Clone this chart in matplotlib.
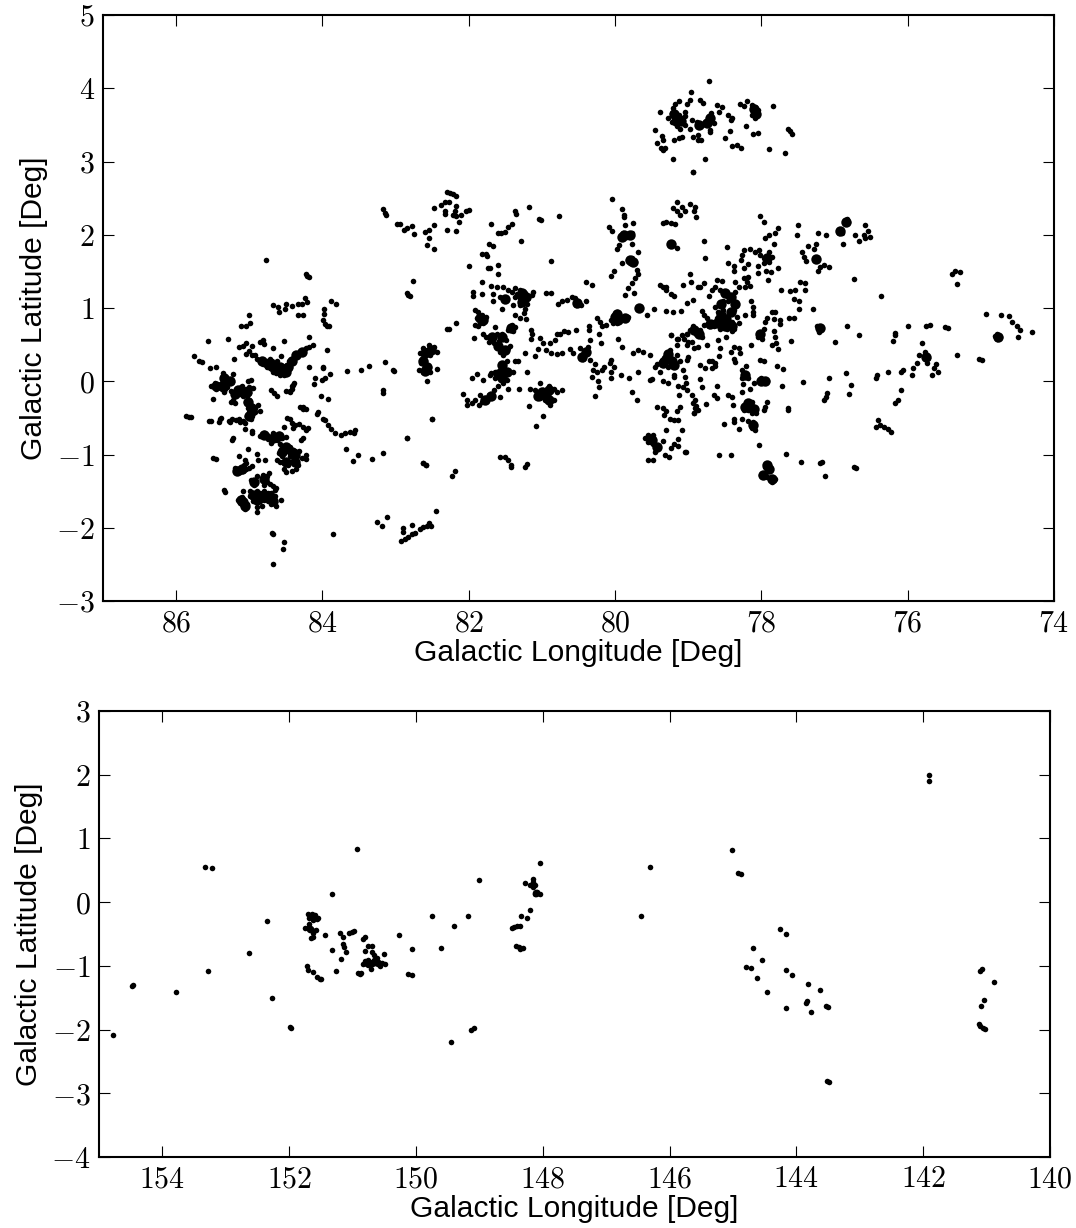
import matplotlib
matplotlib.use('Agg')
import matplotlib.pyplot as plt

plt.rcParams['mathtext.fontset'] = 'cm'
plt.rcParams['font.family'] = ['Liberation Sans', 'DejaVu Sans']

# Source positions as (longitude, latitude) in degrees
top_far_west = [(84.77,1.655),(84.21,1.44),(84.23,1.46),(84.19,1.43),(84.67,1.04),(84.61,1.01),(84.60,.95),(84.51,.98),(84.50,1.05),
    (84.42,1.03),(84.34,1.05),(84.28,1.05),(84.24,1.13),(84.21,1.08),(84.33,.91),(84.27,.91),(83.98,.98),(83.98,.92),(83.99,.84),
    (83.94,.76),(83.97,.78),(83.91,.75),(83.88,1.10),(83.82,1.06),(85.01,.90),(84.99,.80),(85.12,.75),(85.05,.75),(85.56,.545),
    (85.29,.58),(85.76,.345),(85.69,.27),(85.65,.26),(85.21,.31),(85.54,.18),(85.45,.20),(85.14,.47),(85.08,.48),(85.04,.52),
    (84.97,.48),(84.86,.53),(84.81,.565),(84.80,.51),(84.68,.46),(84.52,.55),(84.19,.60)]
top_band = [(85.04,.37),(84.97,.36),(84.90,.31),(84.85,.27),(84.81,.24),(84.76,.20),(84.72,.18),(84.67,.13),(84.63,.11),(84.58,.09),
    (84.53,.09),(84.49,.13),(84.44,.20),(84.40,.27),(84.35,.36),(84.28,.40),(84.22,.45),(84.13,.50),(84.72,.31),(84.67,.245),
    (84.63,.20),(84.58,.20),(84.53,.20),(84.49,.22),(84.42,.31),(84.58,.15),(84.65,.16),(84.51,.15),(84.76,.27),(84.69,.27),
    (84.62,.27),(84.46,.27),(84.38,.33),(84.32,.37),(84.25,.43),(84.18,.47),(84.92,.36),(85.0,.41),(84.56,.35),(84.72,.24)]
top_west_a = [(85.52,-.06),(85.47,-.03),(85.43,-.07),(85.38,-.03),(85.45,-.11),(85.38,-.11),(85.35,-.15),(85.36,.11),(85.36,.07),
    (85.28,.02),(85.24,-.01),(85.22,.10),(85.30,-.08),(85.25,-.13),(85.2,-.16),(85.15,-.16),(85.1,-.13),(85.05,-.1),(85.0,-.08),
    (84.95,-.09),(85.02,.0),(84.98,.02),(85.12,-.08),(85.08,-.2),(85.03,-.2),(85.0,-.16),(85.05,-.28),(85.0,-.25),(84.98,-.32),
    (85.02,-.36),(84.95,-.34),(84.88,-.33),(84.92,-.36),(85.0,-.42),(84.96,-.47),(85.03,-.47),(84.98,-.52),(84.92,-.42),(84.85,-.41),
    (85.25,-.28),(85.2,-.3),(85.22,-.25),(85.5,-.24),(85.86,-.48),(85.83,-.49),(85.8,-.49),(85.55,-.54),(85.52,-.54),(85.4,-.52),
    (85.39,-.5),(85.41,-.55),(85.28,-.54),(85.27,-.56),(85.23,-.52),(85.18,-.53),(85.14,-.52),(85.13,-.55),(85.08,-.54),(85.06,-.57),
    (85.06,-.656),(84.96,-.68),(84.96,-.71),(85.22,-.77),(85.24,-.80),(85.33,-.11),(85.17,-.11),(85.1,-.06)]
top_west_b = [(84.85,-.75),(84.8,-.71),(84.76,-.74),(84.74,-.79),(84.71,-.84),(84.68,-.7),(84.65,-.74),(84.62,-.8),(84.6,-.72),(84.55,-.78),
    (84.5,-.76),(84.58,-.86),(84.57,-.92),(84.53,-.95),(84.6,-.98),(84.48,-.88),(84.48,-.95),(84.44,-.9),(84.42,-.97),(84.38,-.95),
    (84.35,-.98),(84.32,-.95),(84.4,-1.03),(84.37,-1.07),(84.45,-1.02),(84.28,-1.05),(84.22,-1.0),(84.22,-1.06),(84.55,-1.02),
    (84.62,-1.08),(84.58,-1.1),(84.52,-1.12),(84.47,-1.15),(84.53,-1.2),(84.5,-1.24),(84.42,-1.22),(84.33,-1.15),(84.36,-1.2),
    (84.3,-.8),(84.27,-.78),(84.23,-.67),(84.2,-.64),(84.26,-.62),(84.32,-.59),(84.37,-.6),(84.4,-.64),(84.42,-.57),(84.45,-.52),
    (84.48,-.5),(84.52,-.63),(84.71,-.12),(84.66,-.16),(84.62,-.2),(84.5,-.13),(84.45,-.13),(84.41,-.06),(84.39,-.03),(84.27,-.35),
    (84.22,-.38),(84.31,-.345),(84.26,-.38),(85.14,-1.02),(85.02,-.93),(84.90,-.99),(85.06,-1.07),(84.88,-1.07),(84.79,-1.07),
    (85.2,-1.19),(85.17,-1.2),(85.13,-1.24),(85.09,-1.22),(85.05,-1.2),(85.0,-1.18),(85.07,-1.15),(85.04,-1.12),(84.96,-1.16),
    (85.49,-1.05),(85.46,-1.06),(85.35,-1.48),(85.33,-1.51),(84.95,-1.36),(84.9,-1.3),(84.93,-1.42),(84.98,-1.35),(84.81,-1.28),
    (84.76,-1.3),(84.8,-1.35),(84.76,-1.38),(84.72,-1.4),(84.68,-1.43),(84.8,-1.42),(84.73,-1.25),(84.63,-1.46),(84.65,-1.49)]
top_west_c = [(85.15,-1.62),(85.1,-1.58),(85.08,-1.5),(85.13,-1.66),(85.08,-1.68),(85.06,-1.74),(85.03,-1.68),(85.08,-1.62),
    (84.99,-1.5),(84.95,-1.52),(84.9,-1.5),(84.85,-1.52),(84.8,-1.5),(84.75,-1.52),(84.7,-1.52),(84.99,-1.57),(84.95,-1.58),
    (84.9,-1.56),(84.85,-1.58),(84.8,-1.56),(84.75,-1.58),(84.7,-1.57),(84.65,-1.56),(84.95,-1.63),(84.9,-1.62),(84.85,-1.63),
    (84.8,-1.62),(84.75,-1.63),(84.68,-1.62),(84.9,-1.72),(84.82,-1.7),(84.7,-1.67),(84.65,-1.65),(84.64,-1.7),(84.56,-1.62),
    (84.9,-1.78),(84.69,-2.07),(84.67,-2.08),(84.53,-2.2),(84.54,-2.29),(84.68,-2.5),(83.86,-2.08),(84.18,.2),(83.99,.2),(83.99,.18),
    (84.10,.05),(84.11,-.04),(84.0,.02),(83.97,.04),(83.9,.1),(83.94,.42),(84.02,-.2),(83.92,-.24),(84.40,-.05),(84.42,-.1),(84.44,-.15),
    (84.06,-.42),(84.08,-.45),(83.99,-.52),(83.96,-.53),(83.93,-.6),(83.89,-.65),(83.83,-.7),(83.75,-.74),(83.69,-.71),(83.62,-.69),
    (83.57,-.71),(83.55,-.66),(83.66,.14),(83.47,.15),(83.36,.21),(83.15,.26),(83.04,.16),(83.02,.14),(83.17,-.12),(83.17,-.16),
    (83.68,-.92),(83.52,-1.0),(83.58,-1.09),(83.32,-1.06),(83.17,-.98),(82.84,-.77),(82.62,-1.12),(82.59,-1.14),(82.5,-.51),
    (83.17,2.35),(83.15,2.3),(83.13,2.27),(82.98,2.15)]
top_g = [(82.55,.49),(82.62,.45),(82.48,.47),(82.44,.40),(82.67,.38),(82.64,.31),(82.53,.36),(82.6,.27),(82.55,.2),(82.68,.15),(82.62,.13),
    (82.53,.13),(82.44,.17),(82.57,-.0),(82.6,.42),(82.55,.44),(82.62,.37),(82.59,.22),(82.65,.25),(83.25,-1.92),(83.19,-1.97),(83.12,-1.86),
    (82.9,-2.01),(82.9,-2.06),(82.77,-1.96),(82.92,-2.18),(82.87,-2.16),(82.83,-2.12),(82.78,-2.09),(82.73,-2.07),(82.67,-2.02),(82.62,-1.99),
    (82.57,-1.98),(82.55,-1.93),(82.52,-1.97),(82.45,-1.77)]
top_centre_a = [(82.94,2.14),(82.89,2.06),(82.84,2.09),(82.78,2.12),(82.75,2.015),(82.6,2.04),(82.54,2.07),(82.48,2.13),(82.55,1.96),(82.57,1.86),
    (82.48,1.81),(82.48,2.37),(82.38,2.41),(82.32,2.45),(82.27,2.45),(82.3,2.59),(82.26,2.57),(82.21,2.56),(82.17,2.53),(82.32,2.29),(82.32,2.33),
    (82.17,2.39),(82.19,2.32),(82.21,2.27),(82.17,2.25),(82.1,2.27),(82.04,2.32),(82.0,2.34),(82.13,2.18),(82.3,2.06),(82.18,2.05),(81.7,2.14),
    (81.6,2.03),(81.56,2.03),(81.5,2.04),(81.46,2.11),(81.41,2.14),(81.37,2.32),(81.36,2.28),(81.17,2.38),(81.04,2.22),(81.01,2.2),(80.77,2.26),
    (81.29,1.92),(81.73,1.88),(81.67,1.84),(81.82,1.74),(81.76,1.74),(81.75,1.71),(82.0,1.57),(81.74,1.54),(81.71,1.54),(81.6,1.59),(81.6,1.46),
    (80.87,1.64),(82.76,1.37),(82.83,1.18),(82.85,1.21),(82.81,1.17)]
top_centre_b = [(81.82,1.36),(81.7,1.3),(81.62,1.28),(81.53,1.28),(81.46,1.25),(81.37,1.27),(81.3,1.24),(81.23,1.2),(81.19,1.13),(81.21,1.06),(81.23,.99),
    (81.25,.93),(81.22,.85),(81.3,1.04),(81.39,1.04),(81.41,1.22),(81.37,1.15),(81.34,1.19),(81.12,1.22),(81.13,1.18),(81.53,1.13),(81.57,1.15),
    (81.49,1.11),(81.55,.98),(81.67,1.19),(81.67,1.1),(81.82,1.19),(81.94,1.22),(81.94,1.17),(81.37,.9),(81.3,.86),(81.3,1.14),(81.25,1.1),(81.27,1.2),
    (80.94,1.21),(80.87,1.2),(80.78,1.06),(80.73,1.09),(80.66,1.11),(80.59,1.15),(80.55,1.13),(80.5,1.09),(80.53,1.04),(80.46,1.04),(80.4,1.1),
    (80.4,1.35),(80.32,1.32),(81.87,.95),(81.91,.97),(81.82,.9),(81.76,.88),(81.89,.86),(81.82,.84),(81.91,.77),(81.87,.75),(81.8,.79),(81.85,.8),
    (81.93,.59),(82.3,.72),(82.27,.72),(82.18,.79),(81.8,.65),(81.76,.61),(81.73,.54),(81.66,.52),(81.62,.47),(81.57,.4),(81.53,.36),(81.55,.65),
    (81.49,.56),(81.44,.48),(81.47,.45),(81.64,.74),(81.62,.65),(81.68,.62),(81.58,.55),(81.46,.7),(81.41,.77),(81.37,.74),(81.39,.68),(81.15,.7),
    (81.14,.65),(81.15,.57),(81.23,.39),(81.09,.35),(81.05,.44),(81.03,.59),(80.98,.52),(80.94,.43),(80.87,.38),(80.89,.52),(80.82,.56),(80.8,.65),
    (80.75,.65),(80.7,.69),(80.64,.67),(80.53,.7),(80.36,.75),(80.36,.7),(80.22,.65),(80.19,.52),(80.25,.86),(80.21,.81),(80.18,.75),(80.12,.77)]
top_centre_c = [(79.98,.95),(80.0,.88),(80.05,.84),(79.96,.84),(79.93,.88),(79.98,.79),(80.03,.79),(79.82,.88),(79.85,.86),(79.66,1.02),(79.68,.98),
    (79.57,.91),(79.47,.98),(79.3,.96),(79.21,.94),(79.1,.96),(79.02,1.07),(78.93,1.11),(81.48,.27),(81.53,.2),(81.57,.15),(81.64,.13),(81.69,.11),
    (81.71,.09),(81.64,.04),(81.57,.06),(81.5,.09),(81.48,.02),(81.53,-.03),(81.6,-.07),(81.46,-.1),(81.66,-.12),(81.73,-.19),(81.78,-.23),(81.82,-.28),
    (81.86,-.32),(81.85,-.19),(81.57,-.21),(81.37,.27),(81.33,.27),(81.39,.13),(81.21,.12),(81.89,.1),(81.95,.05),(81.8,.02),(82.08,-.18),(82.03,-.26),
    (82.03,-.32),(81.96,-.3),(81.91,-.25),(81.31,-.11),(81.16,-.11),(81.09,-.12),(81.05,-.17),(80.98,-.12),(80.91,-.07),(80.84,-.11),(80.8,-.14),
    (80.73,-.12),(81.03,-.23),(80.96,-.26),(80.89,-.32),(80.84,-.26),(80.94,-.19),(81.0,-.19),(81.03,-.02),(81.18,-.34),(80.98,-.48),(81.08,-.61),
    (82.5,-.51),(82.84,-.77),(82.62,-1.12),(82.59,-1.14),(81.57,-1.03),(81.5,-1.04),(81.46,-1.08),(81.42,-1.14),(81.42,-1.17),(81.21,-1.13),(81.23,-1.17),
    (82.19,-1.23),(82.23,-1.29),(80.72,.39),(80.8,.37),(80.61,.44),(80.57,.38),(80.48,.45),(80.41,.43),(80.37,.47),(80.34,.56),(80.44,.31),(80.34,.29),
    (80.28,.24),(80.3,.15),(80.25,.13),(80.18,.15),(80.15,.2),(80.31,.06),(80.23,-.0),(80.22,-.08),(80.27,-.2),(80.05,.29),(80.07,.25),(80.05,.13),
    (80.02,.2),(80.05,.05),(79.92,.08),(79.81,.04),(79.69,.13),(79.77,-.14),(79.7,-.26),(79.96,.57),(79.9,.47),(79.75,.38),(79.68,.43),(79.62,.4),(79.52,.36)]
top_m = [(79.25,.43),(79.3,.36),(79.36,.29),(79.43,.24),(79.34,.22),(79.27,.2),(79.2,.22),(79.23,.29),(79.16,.36),(79.11,.27),(79.0,.33),(79.01,.29),
    (79.45,.2),(79.39,.13),(79.52,.02),(79.49,.03),(79.34,-.0),(79.27,-.03),(79.2,.09),(79.2,.06),(79.14,-.07),(79.07,-.08),(79.01,-.12),(79.05,.06),
    (79.03,-.03),(79.07,.15),(79.24,.63),(79.16,.57),(79.16,.5),(79.09,.63),(79.02,.65),(78.95,.54),(79.02,.5),(78.93,.75),(78.89,.65),(79.11,-.35),
    (79.34,-.37),(79.3,-.4),(79.43,-.35),(79.33,-.46),(79.25,-.51),(79.2,-.53),(79.14,-.53),(79.08,-.67),(79.31,-.67),(79.14,-.79),(79.16,-.41),(78.93,-.3),
    (78.91,-.37),(78.92,-.44),(78.95,-.19),(79.12,-.19),(79.59,-.78),(79.55,-.73),(79.48,-.73),(79.55,-.83),(79.48,-.85),(79.43,-.89),(79.46,-.96),
    (79.34,-.81),(79.2,-.85),(79.23,-.91),(79.14,-.88),(79.04,-.97),(79.55,-1.07),(79.48,-1.07),(79.32,-1.0),(79.26,-1.04),(78.93,2.86),(80.04,2.49),
    (79.91,2.35),(79.88,2.27),(79.88,2.24),(80.08,2.11),(80.04,2.05),(79.87,2.13),(79.75,2.16),(79.89,2.02),(79.91,1.97),(79.84,1.97),(79.77,2.02),
    (79.86,2.0),(79.94,1.86),(79.98,1.81),(79.77,1.88),(79.68,1.76),(79.82,1.66),(79.77,1.68),(79.73,1.63),(79.8,1.61),(79.9,1.62),(80.02,1.5),(80.05,1.44),
    (79.7,1.52),(79.68,1.47),(79.73,1.41),(79.77,1.34),(79.82,1.27),(79.87,1.18),(79.74,1.21),(79.34,1.29),(79.3,1.29),(79.31,1.25),(79.38,1.31),(79.23,1.19),
    (79.2,1.16),(79.07,1.31),(78.97,1.47),(78.96,1.35),(78.86,1.29),(79.34,2.16),(79.3,2.18),(79.23,2.16),(79.18,2.15),(79.23,1.88),(79.15,1.82),(79.16,2.45),
    (79.21,2.36),(79.16,2.32),(79.09,2.38),(79.05,2.32),(79.11,2.27),(78.98,2.42),(78.91,2.38),(78.92,2.32),(78.89,2.24)]
top_north = [(78.72,4.1),(78.96,3.95),(78.97,3.84),(79.12,3.82),(79.18,3.78),(79.21,3.73),(79.02,3.78),(78.84,3.84),(78.8,3.8),(79.39,3.67),(79.22,3.66),
    (79.27,3.6),(79.22,3.54),(79.18,3.57),(79.13,3.64),(79.04,3.68),(79.09,3.59),(79.16,3.48),(79.11,3.45),(79.04,3.5),(78.97,3.44),(78.95,3.57),(78.88,3.54),
    (78.81,3.5),(78.77,3.54),(78.72,3.59),(78.69,3.66),(78.65,3.53),(78.7,3.43),(78.7,3.4),(79.46,3.43),(79.36,3.35),(79.35,3.3),(79.43,3.25),(79.37,3.18),
    (79.34,3.16),(79.32,3.19),(79.2,3.29),(79.13,3.32),(79.09,3.34),(79.21,3.04),(78.77,3.03),(78.93,2.86),(78.93,3.34),(78.87,3.36),(78.86,3.29),(78.82,3.29),
    (78.6,3.77),(78.54,3.74),(78.58,3.68),(78.45,3.64),(78.4,3.6),(78.42,3.56),(78.43,3.41),(78.5,3.32),(78.4,3.21),(78.34,3.23),(78.28,3.18),(78.29,3.79),
    (78.24,3.76),(78.19,3.82),(78.13,3.77),(78.09,3.75),(78.04,3.7),(78.13,3.64),(78.09,3.6),(78.21,3.48),(78.12,3.38),(78.04,3.39),(77.84,3.76),(77.63,3.45),
    (77.61,3.41),(77.58,3.38),(77.89,3.17),(77.68,3.12),(79.13,3.55),(79.2,3.62),(79.05,3.62)]
top_east_a = [(78.78,1.91),(78.77,1.68),(78.84,1.29),(78.79,1.34),(78.72,1.16),(78.68,1.25),(78.61,1.38),(78.54,1.37),(78.63,1.29),(78.56,1.25),(78.52,1.2),(78.47,1.16),
    (78.4,1.13),(78.36,1.22),(78.31,1.29),(78.36,1.35),(78.52,1.09),(78.45,1.1),(78.36,1.06),(78.63,1.02),(78.59,.95),(78.52,.97),(78.38,.97),(78.34,.88),(78.4,.81),
    (78.38,.72),(78.47,.72),(78.54,.81),(78.61,.86),(78.68,.81),(78.75,.86),(78.81,.96),(78.79,.9),(78.72,.75),(78.65,.75),(78.79,.77),(78.56,.72),(78.49,.61),(78.59,.56),
    (78.4,.68),(78.31,.79),(78.22,.9),(78.14,1.1),(78.12,1.01),(78.12,.95),(78.12,.9),(78.84,.7),(78.91,.68),(78.97,.7),(79.02,.65),(78.81,.61),(78.75,.5),(78.86,.47),
    (78.92,.45),(79.0,.54),(79.06,.58),(79.14,.58),(79.23,.63),(78.56,.46),(78.58,.35),(78.42,.4),(78.37,.47),(78.3,.45),(78.29,.38),(78.38,.31),(78.36,.26),(78.14,.49),
    (78.63,.25),(78.68,.27),(78.72,.27),(78.84,.22),(78.77,.18),(78.63,.21),(78.68,.18),(78.84,.03),(78.81,-.08),(78.6,-.07),(78.65,-.19),(78.61,-.23),(78.46,-.19),
    (78.4,-.22),(78.39,-.33),(78.76,-.31),(78.91,-.25),(78.9,-.34),(78.92,-.44),(78.87,-.39),(78.21,.21),(78.26,.15),(78.22,.09),(78.18,.04),(78.27,.04),(78.1,-.02),
    (78.25,-.04),(78.26,-.14),(78.15,-.1),(78.02,-.0),(77.97,.0),(77.93,-.0),(78.0,.04),(77.72,-.06),(77.43,-.01),(77.79,.21),(77.7,.17),(78.02,.29),(77.96,.27)]
top_east_b = [(78.24,-.35),(78.2,-.3),(78.13,-.28),(78.11,-.35),(78.18,-.39),(78.24,-.39),(78.08,-.44),(78.13,-.44),(78.16,-.35),(77.93,-.29),(77.95,-.35),(77.97,-.39),
    (77.63,-.39),(77.63,-.36),(78.38,-.51),(78.38,-.55),(78.26,-.51),(78.51,-.58),(78.3,-.65),(78.18,-.54),(78.11,-.56),(78.13,-.6),(78.09,-.66),(78.13,-.64),(78.03,-.87),
    (78.58,-1.01),(78.42,-1.01),(79.03,-.97),(77.92,-1.14),(77.95,-1.17),(77.89,-1.19),(78.0,-1.28),(77.93,-1.31),(77.83,-1.35),(77.81,-1.33),(77.86,-1.38),(77.66,-.99),
    (77.46,-1.1),(77.2,-1.12),(77.17,-1.1),(77.13,-1.29),(76.74,-1.17),(76.71,-1.18),(78.02,2.25),(77.97,2.18),(77.77,2.09),(77.81,2.03),(77.9,1.99),(77.95,1.95),(77.83,1.88),
    (77.5,2.13),(77.51,1.99),(77.22,2.03),(77.12,2.0),(76.92,2.07),(76.94,2.03),(76.9,2.03),(76.83,2.22),(76.81,2.17),(76.88,1.88),(76.72,1.99),(76.67,1.92),(78.47,1.83),
    (78.24,1.79),(78.27,1.72),(78.28,1.66),(78.15,1.81),(78.09,1.76),(78.03,1.79),(78.02,1.72),(77.97,1.68),(77.9,1.77),(77.86,1.7),(77.9,1.63),(77.97,1.61),(78.18,1.6),
    (78.24,1.54),(78.38,1.57),(78.38,1.5),(78.46,1.62),(78.04,1.58),(78.04,1.48),(77.94,1.5),(77.87,1.49),(77.77,1.55),(77.91,1.38),(78.18,1.43),(78.24,1.41),(78.2,1.36),
    (78.15,1.3),(78.23,1.29),(77.36,1.84),(77.26,1.88),(77.28,1.81),(77.45,1.77),(77.42,1.7),(77.39,1.64),(77.25,1.67),(77.2,1.56),(77.15,1.59),(77.08,1.56),(77.22,1.5),
    (76.74,1.4),(77.73,1.24),(77.61,1.23),(77.54,1.25),(77.47,1.36),(77.4,1.34),(77.4,1.25),(77.56,1.12),(77.48,1.09),(77.48,.99),(77.29,.98),(77.86,.95),(77.81,.95),
    (77.83,.85),(77.93,.86),(77.95,.81),(77.75,.84),(77.74,.78),(77.62,.86),(77.56,.86),(78.02,.65),(78.04,.61),(77.99,.58),(77.97,.72),(77.83,.68),(77.81,.61),(77.86,.5),
    (77.8,.52),(77.77,.44),(77.6,.55),(77.24,.75),(77.2,.74),(77.21,.67),(77.0,.53),(76.83,.75),(76.67,.63),(77.08,.05),(76.84,.11),(76.78,-.05),(76.8,-.17),(77.1,-.16),
    (77.12,-.22),(77.15,-.26)]
top_far_east = [(76.58,2.13),(76.54,2.05),(76.6,2.0),(76.52,1.97),(76.58,1.95),(76.36,1.16),(75.28,1.49),(75.35,1.5),(75.39,1.46),(75.32,1.33),(74.93,.92),(74.72,.9),
    (74.62,.89),(74.8,.62),(74.76,.62),(74.78,.58),(74.74,.6),(74.78,.64),(74.57,.81),(74.49,.6),(74.47,.7),(74.3,.67),(74.5,.75),(74.99,.29),(75.03,.3),(75.33,.36),(75.49,.74),
    (75.45,.73),(75.7,.77),(75.75,.76),(75.77,.4),(75.76,.32),(75.74,.25),(75.8,.52),(75.84,.36),(75.87,.25),(75.72,.32),(76.0,.75),(76.17,.63),(76.2,.55),(76.18,.66),(75.93,.18),
    (75.64,.18),(75.67,.09),(75.61,.23),(75.58,.13),(75.94,.09),(76.27,.13),(76.06,.15),(76.09,.13),(76.42,.09),(76.43,.05),(76.13,-.26),(76.17,-.3),(76.09,-.12),(76.41,-.53),
    (76.38,-.6),(76.33,-.62),(76.27,-.65),(76.23,-.69),(76.43,-.62)]

# Brighter sources, the ones drawn as larger dots
top_bright = [(84.58,.14),(84.63,.17),(84.53,.17),(84.68,.2),(84.47,.2),(84.42,.28),(84.36,.36),(84.74,.24),(84.82,.27),(84.5,.12),(84.58,.2),(84.28,.4),
    (85.45,-.06),(85.38,-.07),(85.34,.04),(85.27,.0),(85.1,-.14),(85.03,-.15),(85.2,-.18),(85.02,-.28),(84.97,-.4),(85.0,-.48),(85.15,-.12),
    (84.55,-.97),(84.5,-.9),(84.42,-.97),(84.37,-1.0),(84.6,-.75),(84.8,-.74),(84.68,-.78),(84.5,-1.1),(84.38,-1.1),(85.1,-1.2),(85.17,-1.22),(84.8,-1.33),(84.93,-1.38),
    (85.12,-1.62),(85.08,-1.65),(84.95,-1.55),(84.88,-1.56),(84.8,-1.55),(84.72,-1.57),(84.67,-1.63),(84.9,-1.62),(85.06,-1.7),
    (82.6,.38),(82.52,.42),(82.62,.28),(82.57,.2),(82.6,.14),
    (81.85,.87),(81.8,.83),(81.68,.6),(81.6,.48),(81.55,.6),(81.42,.73),(81.5,.43),(81.22,1.15),(81.27,1.08),(81.27,1.2),(81.5,1.12),(81.55,.22),(81.55,.05),(81.6,.1),(81.48,.13),
    (81.7,-.2),(81.78,-.26),(80.95,-.2),(81.0,-.15),(80.9,-.25),(81.05,-.2),(80.9,-.12),(80.52,1.07),(80.0,.88),(79.97,.92),(79.96,.83),(79.67,1.0),(79.86,.87),(80.4,.4),(80.45,.33),
    (79.3,.3),(79.22,.28),(79.35,.25),(79.27,.37),(79.2,.22),(79.88,2.0),(79.8,2.0),(79.9,1.97),(79.8,1.65),(79.75,1.63),(79.23,1.88),(79.5,-.8),(79.43,-.9),
    (78.55,.9),(78.48,.85),(78.42,.95),(78.6,.8),(78.7,.78),(78.5,1.2),(78.42,1.15),(78.55,1.05),(78.4,.75),(78.5,.75),(78.85,.65),(78.92,.7),(78.36,1.05),
    (78.15,-.35),(78.22,-.35),(78.18,-.3),(78.1,-.38),(78.0,.0),(77.95,.0),(78.02,.65),(76.92,2.05),(76.85,2.18),(77.93,-1.15),(77.9,-1.2),(77.85,-1.33),(77.98,-1.28),(78.12,-.6),
    (78.22,.08),(77.26,1.67),(77.2,.73),(74.77,.61),(77.93,1.68),(75.75,.33),(79.17,3.55),(79.1,3.55),(79.2,3.65),(78.85,3.5),(78.75,3.52),(78.7,3.6),(78.08,3.65),(78.1,3.72)]
bottom_bright = [(151.62,-.22),(151.67,-.42),(150.7,-.96),(150.6,-.95),(150.78,-.95),(148.1,.14)]

bottom_west = [(154.78,-2.09),(154.47,-1.3),(154.48,-1.32),(153.79,-1.41),(153.33,.55),(153.22,.53),(153.28,-1.08),(152.63,-.8),(152.35,-.3),(152.27,-1.5),(151.99,-1.96),(151.97,-1.98),
    (150.93,.83),(151.32,.12),(151.7,-.19),(151.64,-.19),(151.59,-.2),(151.54,-.25),(151.62,-.28),(151.68,-.25),(151.56,-.27),(151.68,-.34),(151.75,-.41),(151.7,-.41),(151.64,-.44),
    (151.57,-.44),(151.62,-.49),(151.66,-.57),(151.63,-.54),(151.44,-.52),(151.2,-.48),(151.15,-.54),(151.05,-.49),(151.01,-.47),(150.98,-.46),(150.81,-.55),(150.83,-.58),(151.15,-.65),
    (151.13,-.7),(151.32,-.75),(151.1,-.79),(151.19,-.9),(151.26,-1.08),(151.72,-1.01),(151.71,-1.06),(151.63,-1.1),(151.56,-1.17),(151.52,-1.21),(151.5,-1.2),(150.89,-1.12),(150.91,-1.11),
    (150.87,-1.11),(150.75,-.69),(150.7,-.69),(150.81,-.77),(150.7,-.78),(150.67,-.83),(150.5,-.82),(150.81,-.92),(150.76,-.91),(150.83,-.97),(150.76,-.99),(150.71,-1.05),(150.67,-.91),
    (150.64,-.96),(150.59,-.96),(150.56,-1.01),(150.54,-.95),(150.49,-.97),(150.62,-.88),(150.27,-.52),(150.07,-.74),(150.13,-1.12),(150.07,-1.14)]
bottom_middle = [(149.75,-.21),(149.4,-.37),(149.18,-.22),(149.61,-.72),(149.0,.35),(148.05,.62),(148.16,.37),(148.15,.32),(148.28,.3),(148.2,.27),(148.12,.27),(148.15,.23),(148.09,.16),
    (148.12,.12),(148.05,.13),(148.2,-.13),(148.35,-.21),(148.25,-.25),(148.49,-.4),(148.45,-.39),(148.4,-.38),(148.36,-.37),(148.42,-.69),(148.38,-.71),(148.36,-.74),(148.32,-.72),
    (149.45,-2.2),(149.13,-2.01),(149.08,-1.98),(146.45,-.22),(146.31,.55)]
bottom_east = [(145.02,.82),(144.92,.46),(144.87,.44),(144.68,-.72),(144.79,-1.02),(144.72,-1.03),(144.62,-1.19),(144.54,-.91),(144.46,-1.41),(144.26,-.42),(144.16,-.5),(144.16,-1.07),
    (144.07,-1.15),(144.16,-1.66),(143.82,-1.28),(143.83,-1.55),(143.85,-1.58),(143.77,-1.72),(143.63,-1.38),(143.53,-1.63),(143.5,-1.65),(143.52,-2.81),(143.49,-2.82),(141.91,2.0),(141.91,1.9),
    (141.07,-1.05),(141.1,-1.08),(141.04,-1.54),(141.09,-1.63),(141.1,-1.94),(141.06,-1.98),(141.12,-1.91),(141.02,-1.99),(140.88,-1.25)]

top_groups = [top_far_west, top_band, top_west_a, top_west_b, top_west_c, top_g, top_centre_a, top_centre_b,
              top_centre_c, top_m, top_north, top_east_a, top_east_b, top_far_east]
bottom_groups = [bottom_west, bottom_middle, bottom_east]

top_xticks = [86, 84, 82, 80, 78, 76, 74]
top_yticks = [-3, -2, -1, 0, 1, 2, 3, 4, 5]
bottom_xticks = [154, 152, 150, 148, 146, 144, 142, 140]
bottom_yticks = [-4, -3, -2, -1, 0, 1, 2, 3]


def panel(fig, rect, groups, bright, bright_ms, xlim, ylim, xticks, yticks):
    ax = fig.add_axes(rect)
    for g in groups:
        lon, lat = zip(*g)
        ax.plot(lon, lat, 'o', color='black', ms=4.0, mew=0)
    lon, lat = zip(*bright)
    ax.plot(lon, lat, 'o', color='black', ms=bright_ms, mew=0)
    ax.set_xlim(*xlim)
    ax.set_ylim(*ylim)
    ax.set_xticks(xticks)
    ax.set_yticks(yticks)
    ax.set_xticklabels(['$%d$' % t for t in xticks])
    ax.set_yticklabels(['$%d$' % t for t in yticks])
    ax.tick_params(direction='in', top=True, right=True, length=8, width=0.8, labelsize=21.5, pad=6)
    for s in ax.spines.values():
        s.set_linewidth(1.5)
    ax.set_xlabel('Galactic Longitude [Deg]', fontsize=21.6, labelpad=1)
    ax.set_ylabel('Galactic Latitude [Deg]', fontsize=21.6, labelpad=6)
    return ax


W, H = 1076.0, 1228.0
fig = plt.figure(figsize=(10.76, 12.28), dpi=100)
panel(fig, [103/W, 1-601/H, 951/W, 586/H], top_groups, top_bright, 7.5, (87, 74), (-3, 5), top_xticks, top_yticks)
panel(fig, [99/W, 1-1157/H, 951/W, 446/H], bottom_groups, bottom_bright, 5.5, (155, 140), (-4, 3), bottom_xticks, bottom_yticks)
fig.savefig('out.png', dpi=100)
